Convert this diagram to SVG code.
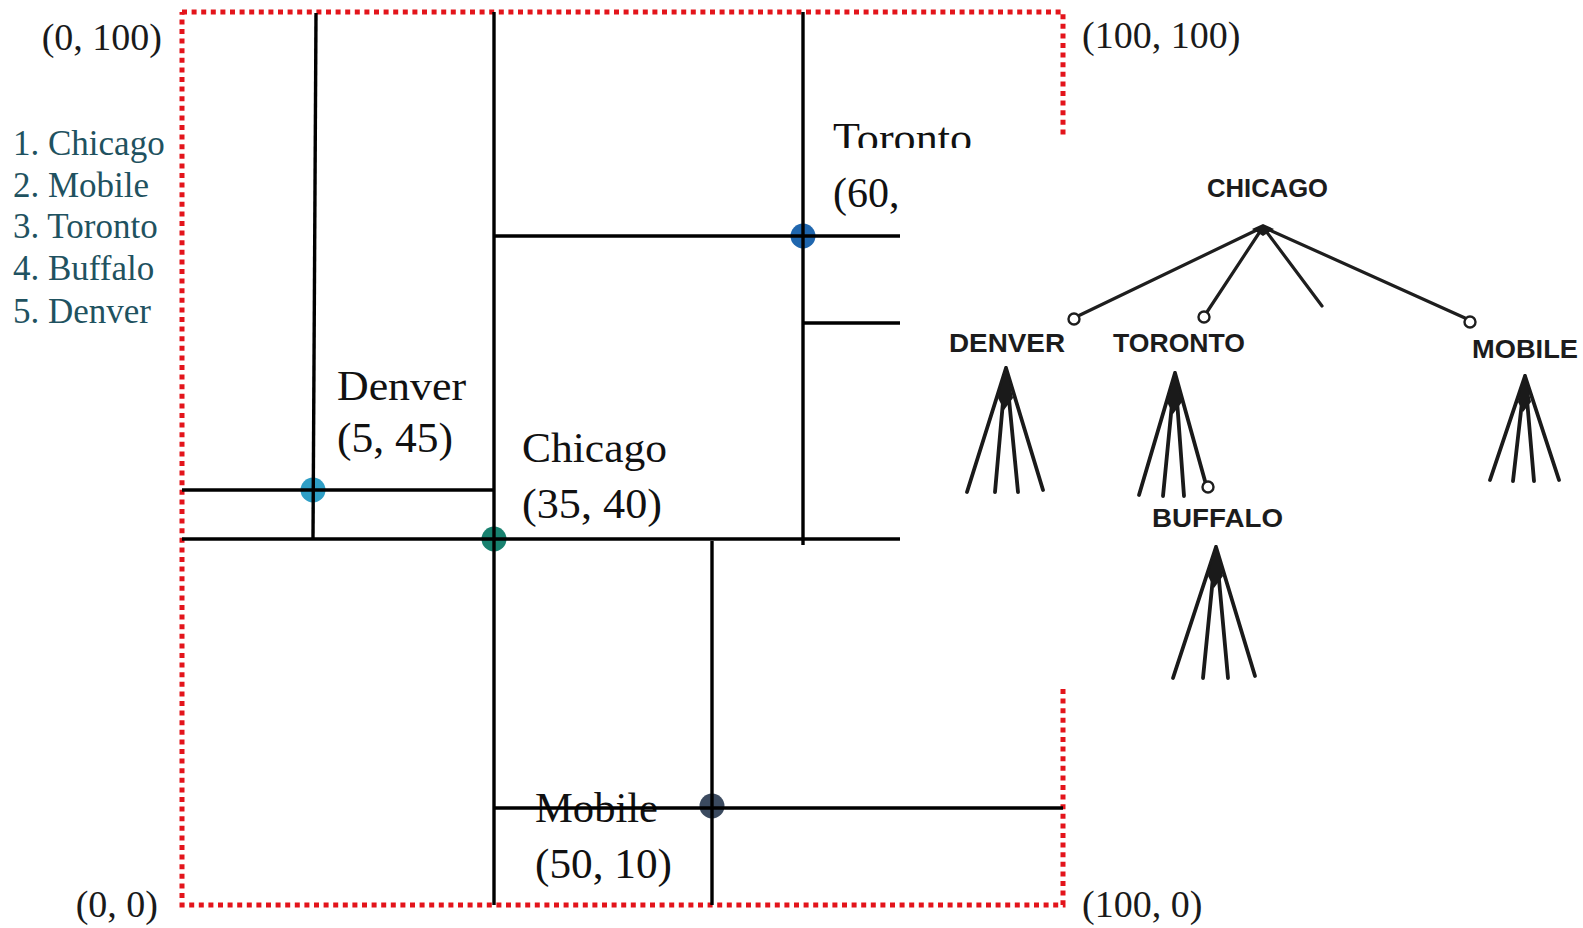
<svg xmlns="http://www.w3.org/2000/svg" width="1583" height="928" viewBox="0 0 1583 928">
  <style>
    .frame { fill: none; stroke: #e3141b; stroke-width: 5; stroke-dasharray: 5 4.6; }
    .cut { fill: none; stroke: #000; stroke-width: 3.4; stroke-linecap: butt; }
    .coord { font-family: "Liberation Serif", "Times New Roman", serif; font-size: 38px; fill: #1a1a1a; }
    .city { font-family: "Liberation Serif", "Times New Roman", serif; font-size: 42px; fill: #111; }
    .order { font-family: "Liberation Serif", "Times New Roman", serif; font-size: 35px; fill: #1f5260; }
    .tlabel { font-family: "Liberation Sans", Arial, sans-serif; font-weight: bold; font-size: 26px; fill: #1c1c1c; }
    .edge { fill: none; stroke: #1e1e1e; stroke-width: 3.2; stroke-linecap: round; }
    .fan { fill: none; stroke: #1a1a1a; stroke-width: 3.8; stroke-linecap: round; }
    .apex { fill: #1a1a1a; }
    .ring { fill: #fff; stroke: #1e1e1e; stroke-width: 2.4; }
  </style>
  <defs>
    <clipPath id="clip-toronto-name">
      <rect x="800" y="100" width="200" height="48"/>
    </clipPath>
  </defs>

  <rect width="1583" height="928" fill="#fff"/>

  <!-- outer boundary of the 100 x 100 region -->
  <g id="frame">
    <path class="frame" d="M182 12 H1063 V139"/>
    <path class="frame" d="M1063 689 V905 H182 V12"/>
  </g>

  <!-- corner coordinates -->
  <g id="corner-labels">
    <text class="coord" x="162" y="50" text-anchor="end">(0, 100)</text>
    <text class="coord" x="1082" y="48">(100, 100)</text>
    <text class="coord" x="158" y="917" text-anchor="end">(0, 0)</text>
    <text class="coord" x="1082" y="917">(100, 0)</text>
  </g>

  <!-- insertion order -->
  <g id="insertion-order">
    <text class="order" x="13" y="155">1. Chicago</text>
    <text class="order" x="13" y="197">2. Mobile</text>
    <text class="order" x="13" y="238">3. Toronto</text>
    <text class="order" x="13" y="280">4. Buffalo</text>
    <text class="order" x="13" y="323">5. Denver</text>
  </g>

  <!-- data points -->
  <g id="point-denver">
    <circle cx="313" cy="490" r="12.5" fill="#2f9fc6"/>
    <text class="city" x="337" y="400" textLength="129" lengthAdjust="spacingAndGlyphs">Denver</text>
    <text class="city" x="337" y="452" textLength="116" lengthAdjust="spacingAndGlyphs">(5, 45)</text>
  </g>
  <g id="point-chicago">
    <circle cx="494" cy="539" r="12.5" fill="#18816f"/>
    <text class="city" x="522" y="462" textLength="145" lengthAdjust="spacingAndGlyphs">Chicago</text>
    <text class="city" x="522" y="518" textLength="140" lengthAdjust="spacingAndGlyphs">(35, 40)</text>
  </g>
  <g id="point-toronto">
    <circle cx="803" cy="236" r="12.5" fill="#1f66ae"/>
    <text class="city" x="833" y="152" textLength="139" lengthAdjust="spacingAndGlyphs" clip-path="url(#clip-toronto-name)">Toronto</text>
    <text class="city" x="833" y="207">(60,</text>
  </g>
  <g id="point-mobile">
    <circle cx="712" cy="806" r="12.5" fill="#3b4a5f"/>
    <text class="city" x="535" y="822" textLength="123" lengthAdjust="spacingAndGlyphs">Mobile</text>
    <text class="city" x="535" y="878" textLength="137" lengthAdjust="spacingAndGlyphs">(50, 10)</text>
  </g>

  <!-- partition lines through each point -->
  <g id="partition-lines">
    <path class="cut" d="M316 13 L313 539"/>
    <path class="cut" d="M182 490 H495"/>
    <path class="cut" d="M494 12 V905"/>
    <path class="cut" d="M182 539 H900"/>
    <path class="cut" d="M494 236 H900"/>
    <path class="cut" d="M803 12 V545"/>
    <path class="cut" d="M803 323 H900"/>
    <path class="cut" d="M712 541 V905"/>
    <path class="cut" d="M494 808 H1063"/>
  </g>

  <!-- point quadtree panel -->
  <rect id="tree-panel" x="900" y="148" width="683" height="540" fill="#fff"/>

  <g id="tree-edges">
    <path class="edge" d="M1263 227 L1078 316"/>
    <path class="edge" d="M1263 227 L1207 312"/>
    <path class="edge" d="M1263 227 L1322 306"/>
    <path class="edge" d="M1263 227 L1465 318"/>
    <path class="apex" d="M1252 229 L1263 224 L1274 229 L1263 236 Z"/>
    <!-- Denver subtree -->
    <path class="fan" d="M1006 368 L967 492 M1006 368 L995 492 M1006 368 L1018 492 M1006 368 L1043 490"/>
    <path class="apex" d="M1006 366 L1013 398 L1004 410 L998 398 Z"/>
    <!-- Toronto subtree -->
    <path class="fan" d="M1175 373 L1139 495 M1175 373 L1163 496 M1175 373 L1184 496 M1175 373 L1205 481"/>
    <path class="apex" d="M1175 371 L1182 402 L1173 414 L1167 402 Z"/>
    <!-- Buffalo subtree -->
    <path class="fan" d="M1216 547 L1173 678 M1216 547 L1203 678 M1216 547 L1228 678 M1216 547 L1255 676"/>
    <path class="apex" d="M1216 545 L1223 576 L1214 588 L1208 576 Z"/>
    <!-- Mobile subtree -->
    <path class="fan" d="M1525 376 L1490 480 M1525 376 L1513 481 M1525 376 L1534 481 M1525 376 L1559 480"/>
    <path class="apex" d="M1525 374 L1531 402 L1523 412 L1518 402 Z"/>
  </g>

  <g id="tree-chicago">
    <text class="tlabel" x="1207" y="197" textLength="121" lengthAdjust="spacingAndGlyphs">CHICAGO</text>
  </g>
  <g id="tree-denver">
    <circle class="ring" cx="1074" cy="319" r="5.5"/>
    <text class="tlabel" x="949" y="352" textLength="116" lengthAdjust="spacingAndGlyphs">DENVER</text>
  </g>
  <g id="tree-toronto">
    <circle class="ring" cx="1204" cy="317" r="5.5"/>
    <text class="tlabel" x="1113" y="352" textLength="132" lengthAdjust="spacingAndGlyphs">TORONTO</text>
  </g>
  <g id="tree-mobile">
    <circle class="ring" cx="1470" cy="322" r="5.5"/>
    <text class="tlabel" x="1472" y="358" textLength="106" lengthAdjust="spacingAndGlyphs">MOBILE</text>
  </g>
  <g id="tree-buffalo">
    <circle class="ring" cx="1208" cy="487" r="5.5"/>
    <text class="tlabel" x="1152" y="527" textLength="131" lengthAdjust="spacingAndGlyphs">BUFFALO</text>
  </g>
</svg>
